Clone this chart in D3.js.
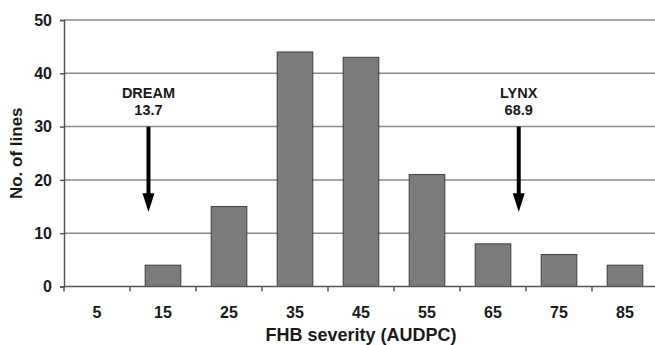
<!DOCTYPE html>
<html>
<head>
<meta charset="utf-8">
<script src="https://cdn.jsdelivr.net/npm/d3@7"></script>
<style>
  body { margin: 0; background: #fff; }
  svg { display: block; font-family: "Liberation Sans", Arial, sans-serif; }
</style>
</head>
<body>
<svg id="chart" width="655" height="345"></svg>
<script>
// severity classes (AUDPC midpoints) and number of lines
const classes = ["5", "15", "25", "35", "45", "55", "65", "75", "85"];
const counts = [0, 4, 15, 44, 43, 21, 8, 6, 4];
const yTicks = [0, 10, 20, 30, 40, 50];
// parents: label, value shown, position on the AUDPC axis
const parentNames = ["DREAM", "LYNX"];
const parentValues = ["13.7", "68.9"];
const parentPos = [12.8, 68.9];

const svg = d3.select("#chart");
const plotLeft = 64, plotRight = 658, plotTop = 20, plotBottom = 286.5;

const x = d3.scaleBand()
    .domain(classes)
    .range([plotLeft, plotRight])
    .paddingInner(0.46)
    .paddingOuter(0.23);

const xLin = d3.scaleLinear().domain([0, 90]).range([plotLeft, plotRight]);

const y = d3.scaleLinear().domain([0, 50]).range([plotBottom, plotTop]);

// gridlines
svg.append("g")
    .selectAll("line")
    .data(yTicks.filter(d => d > 0))
    .join("line")
    .attr("x1", plotLeft).attr("x2", plotRight)
    .attr("y1", d => y(d)).attr("y2", d => y(d))
    .attr("stroke", "#8a8a8a")
    .attr("stroke-width", 1.5);

// bars
const barData = classes.map((c, i) => ({ cls: c, n: counts[i] })).filter(d => d.n > 0);
svg.append("g")
    .selectAll("rect")
    .data(barData)
    .join("rect")
    .attr("x", d => x(d.cls))
    .attr("y", d => y(d.n))
    .attr("width", x.bandwidth())
    .attr("height", d => y(0) - y(d.n))
    .attr("fill", "#7b7b7b")
    .attr("stroke", "#3c3c3c")
    .attr("stroke-width", 1);

// y axis
const yAxis = svg.append("g")
    .attr("transform", `translate(${plotLeft},0)`)
    .call(d3.axisLeft(y).tickValues(yTicks).tickSize(4).tickPadding(8));
yAxis.select(".domain").attr("stroke", "#555").attr("stroke-width", 1.5);
yAxis.selectAll(".tick line").attr("stroke", "#555").attr("stroke-width", 1.5);
yAxis.selectAll("text")
    .attr("fill", "#1a1a1a")
    .style("font-size", "16px")
    .style("font-weight", "bold");

// x axis: ticks at class boundaries, labels in the middle
const xAxis = svg.append("g")
    .attr("transform", `translate(0,${plotBottom})`);
xAxis.append("line")
    .attr("x1", plotLeft).attr("x2", plotRight)
    .attr("stroke", "#555").attr("stroke-width", 1.5);
xAxis.selectAll(".bt")
    .data(classes)
    .join("line")
    .attr("class", "bt")
    .attr("x1", d => x(d) - x.step() * x.paddingInner() / 2)
    .attr("x2", d => x(d) - x.step() * x.paddingInner() / 2)
    .attr("y1", 0).attr("y2", 5)
    .attr("stroke", "#555").attr("stroke-width", 1.5);
xAxis.selectAll("text")
    .data(classes)
    .join("text")
    .attr("x", d => x(d) + x.bandwidth() / 2)
    .attr("y", 31.5)
    .attr("text-anchor", "middle")
    .attr("fill", "#1a1a1a")
    .style("font-size", "16px")
    .style("font-weight", "bold")
    .text(d => d);

// axis titles
svg.append("text")
    .attr("x", (plotLeft + plotRight) / 2)
    .attr("y", 340.5)
    .attr("text-anchor", "middle")
    .attr("fill", "#1a1a1a")
    .style("font-size", "18px")
    .style("font-weight", "bold")
    .text("FHB severity (AUDPC)");

svg.append("text")
    .attr("transform", `translate(22,${(plotTop + plotBottom) / 2}) rotate(-90)`)
    .attr("text-anchor", "middle")
    .attr("fill", "#1a1a1a")
    .style("font-size", "17px")
    .style("font-weight", "bold")
    .text("No. of lines");

// parent arrows
const ann = svg.append("g");
parentNames.forEach((name, i) => {
    const cx = xLin(parentPos[i]);
    ann.append("text")
        .attr("x", cx).attr("y", 97.5)
        .attr("text-anchor", "middle")
        .attr("fill", "#1a1a1a")
        .style("font-size", "14.5px")
        .style("font-weight", "bold")
        .text(name);
    ann.append("text")
        .attr("x", cx).attr("y", 115)
        .attr("text-anchor", "middle")
        .attr("fill", "#1a1a1a")
        .style("font-size", "14.5px")
        .style("font-weight", "bold")
        .text(parentValues[i]);
    ann.append("line")
        .attr("x1", cx).attr("x2", cx)
        .attr("y1", y(30)).attr("y2", y(16.5))
        .attr("stroke", "#000").attr("stroke-width", 4);
    ann.append("path")
        .attr("d", `M${cx - 6},${y(17.5)} L${cx + 6},${y(17.5)} L${cx},${y(14)} Z`)
        .attr("fill", "#000");
});
</script>
</body>
</html>
